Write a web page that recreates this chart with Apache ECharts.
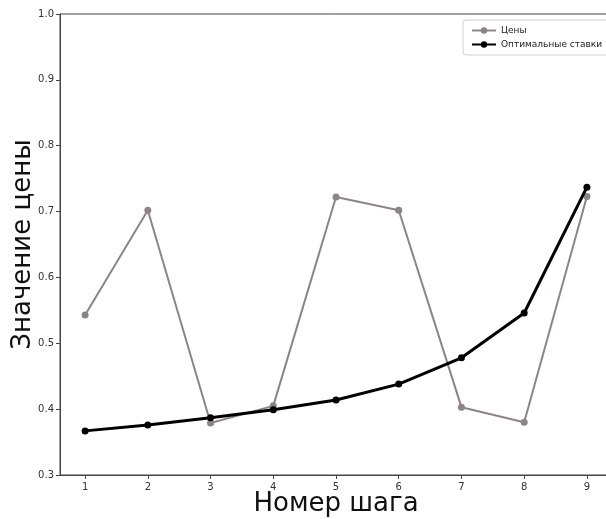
<!DOCTYPE html>
<html>
<head>
<meta charset="utf-8">
<script src="https://cdn.jsdelivr.net/npm/echarts@6/dist/echarts.min.js"></script>
<style>
    html, body { margin: 0; padding: 0; background: #fff; }
    #main { width: 606px; height: 519px; }
</style>
</head>
<body>
<div id="main"></div>
<script>
    // номера шагов и значения
    var steps = [1, 2, 3, 4, 5, 6, 7, 8, 9];
    var prices = [0.543, 0.702, 0.379, 0.405, 0.722, 0.702, 0.403, 0.380, 0.723];
    var optimalBids = [0.367, 0.376, 0.387, 0.399, 0.414, 0.438, 0.478, 0.546, 0.737];

    function pairs(vals) {
        return steps.map(function (s, i) { return [s, vals[i]]; });
    }

    var myChart = echarts.init(document.getElementById('main'));
    var font = 'DejaVu Sans';
    var option = {
        animation: false,
        textStyle: { fontFamily: font },
        grid: {
            left: 60, top: 14, width: 552, height: 461,
            outerBoundsMode: 'none',
            containLabel: false,
            show: true, borderColor: '#444', borderWidth: 1
        },
        legend: {
            orient: 'vertical',
            left: 463, top: 20,
            padding: [6, 8, 6, 8],
            borderColor: '#d0d0d0', borderWidth: 1, borderRadius: 3,
            itemWidth: 24, itemHeight: 8, itemGap: 5,
            textStyle: { fontSize: 9, color: '#222', fontFamily: font },
            data: ['Цены', 'Оптимальные ставки']
        },
        xAxis: {
            type: 'value',
            min: 0.6, max: 9.4,
            name: 'Номер шага',
            nameLocation: 'middle',
            nameGap: 16,
            nameMoveOverlap: false,
            nameTextStyle: { fontSize: 26, color: '#111', fontFamily: font },
            axisLine: { lineStyle: { color: '#444' } },
            axisTick: { show: true, length: 4, customValues: steps, lineStyle: { color: '#444' } },
            axisLabel: { customValues: steps, fontSize: 10, color: '#333', margin: 7 },
            splitLine: { show: false }
        },
        yAxis: {
            type: 'value',
            min: 0.3, max: 1.0, interval: 0.1,
            name: 'Значение цены',
            nameLocation: 'middle',
            nameGap: 24,
            nameMoveOverlap: false,
            nameTextStyle: { fontSize: 26, color: '#111', fontFamily: font },
            axisLine: { show: true, lineStyle: { color: '#444' } },
            axisTick: { show: true, length: 4, lineStyle: { color: '#444' } },
            axisLabel: {
                fontSize: 10, color: '#333', margin: 6,
                formatter: function (v) { return v.toFixed(1); }
            },
            splitLine: { show: false }
        },
        series: [
            {
                name: 'Цены',
                type: 'line',
                data: pairs(prices),
                symbol: 'circle', symbolSize: 7,
                lineStyle: { color: '#8d8484', width: 2 },
                itemStyle: { color: '#8d8484' },
                z: 2
            },
            {
                name: 'Оптимальные ставки',
                type: 'line',
                data: pairs(optimalBids),
                symbol: 'circle', symbolSize: 7,
                lineStyle: { color: '#000', width: 3 },
                itemStyle: { color: '#000' },
                z: 3
            }
        ]
    };
    myChart.setOption(option);
</script>
</body>
</html>
